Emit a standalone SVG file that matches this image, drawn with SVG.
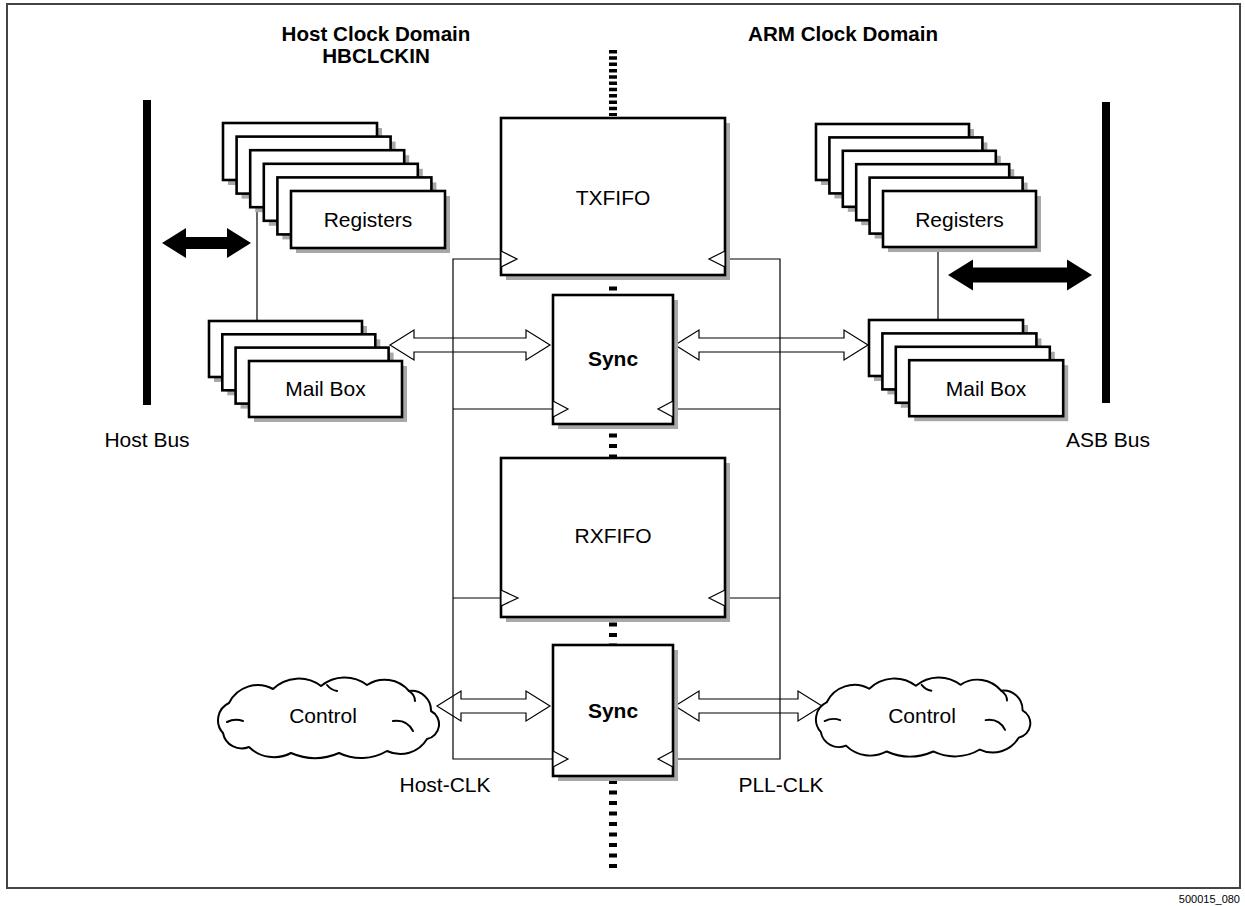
<svg xmlns="http://www.w3.org/2000/svg" xmlns:xlink="http://www.w3.org/1999/xlink" width="1245" height="906" viewBox="0 0 1245 906">
  <style>
    .frame { fill: none; stroke: #444; stroke-width: 2; }
    .sh { fill: #a8a8a8; }
    .bx { fill: #fff; stroke: #000; stroke-width: 2.6; }
    .clk { fill: #fff; stroke: #000; stroke-width: 1.2; }
    .wire { fill: none; stroke: #000; stroke-width: 1.2; }
    .hollow { fill: #fff; stroke: #000; stroke-width: 1.2; stroke-linejoin: miter; }
    .solid { fill: #000; stroke: none; }
    .bus { fill: #000; }
    .dom { fill: none; stroke: #000; stroke-width: 8; }
    .cloud { fill: #fff; stroke: #000; stroke-width: 2; stroke-linejoin: round; }
    .curl { fill: none; stroke: #000; stroke-width: 2; stroke-linecap: round; }
    text { font-family: "Liberation Sans", Arial, Helvetica, sans-serif; fill: #000; }
    .lbl { font-size: 21px; text-anchor: middle; }
    .b { font-weight: bold; }
    .hd { font-size: 20.6px; }
    .ref { font-size: 11px; text-anchor: end; }
  </style>
  <defs>
    <g id="cloud">
      <path class="cloud" d="M 8 56 A 19 19 0 0 1 14 26 A 32 32 0 0 1 58 12 A 37 37 0 0 1 106 9 A 37 37 0 0 1 152 8 A 32 32 0 0 1 194 14 A 19.5 19.5 0 0 1 216 34 A 15 15 0 0 1 212 62 A 31 31 0 0 1 172 74 A 51 51 0 0 1 124 76 A 60 60 0 0 1 76 76 A 36 36 0 0 1 34 70 A 19 19 0 0 1 8 56 Z"/>
      <path class="curl" d="M 12 45 Q 20 41 28 44"/>
      <path class="curl" d="M 178 44 Q 192 42 198 54"/>
      <path class="curl" d="M 112 8 Q 116 13 122 14"/>
      <path class="curl" d="M 194 14 Q 200 18 200 24"/>
    </g>
  </defs>

  <rect width="1245" height="906" fill="#fff"/>
  <rect class="frame" x="7" y="4" width="1233" height="884"/>
  <text class="ref" x="1240" y="903">500015_080</text>

  <!-- clock domain boundary -->
  <g id="domain-boundary">
    <line class="dom" x1="613" y1="50" x2="613" y2="116" stroke-dasharray="3.5 2.8"/>
    <line class="dom" x1="613" y1="276" x2="613" y2="870" stroke-dasharray="4 6.5"/>
  </g>

  <!-- domain headings -->
  <g id="headings">
    <text class="lbl b hd" x="376" y="41">Host Clock Domain</text>
    <text class="lbl b hd" x="376" y="63">HBCLCKIN</text>
    <text class="lbl b hd" x="843" y="41">ARM Clock Domain</text>
  </g>

  <!-- buses -->
  <g id="host-bus">
    <rect class="bus" x="143" y="100" width="8" height="305"/>
    <text class="lbl" x="147" y="447">Host Bus</text>
  </g>
  <g id="asb-bus">
    <rect class="bus" x="1102" y="102" width="8" height="301"/>
    <text class="lbl" x="1108" y="447">ASB Bus</text>
  </g>

  <!-- connectors -->
  <g id="connectors">
    <polygon class="solid" points="162,243 186,228 186,237 227,237 227,228 251,243 227,258 227,249 186,249 186,258"/>
    <polygon class="solid" points="948,275 973,259.5 973,267.5 1067,267.5 1067,259.5 1092,275 1067,290.5 1067,282.5 973,282.5 973,290.5"/>
    <polygon class="hollow" points="390,345 414,330 414,338 526,338 526,330 550,345 526,360 526,352 414,352 414,360"/>
    <polygon class="hollow" points="675,345 699,330 699,338 844,338 844,330 868,345 844,360 844,352 699,352 699,360"/>
    <polygon class="hollow" points="437,706 461,691 461,699 526,699 526,691 550,706 526,721 526,713 461,713 461,721"/>
    <polygon class="hollow" points="675,706 699,691 699,699 798,699 798,691 822,706 798,721 798,713 699,713 699,721"/>
    <line class="wire" x1="257" y1="207" x2="257" y2="321"/>
    <line class="wire" x1="938" y1="247" x2="938" y2="320"/>
    <!-- Host-CLK distribution -->
    <polyline class="wire" points="501,259 453,259 453,759 553,759"/>
    <line class="wire" x1="453" y1="409" x2="553" y2="409"/>
    <line class="wire" x1="453" y1="598" x2="501" y2="598"/>
    <!-- PLL-CLK distribution -->
    <polyline class="wire" points="725,259 780,259 780,759 673,759"/>
    <line class="wire" x1="673" y1="409" x2="780" y2="409"/>
    <line class="wire" x1="725" y1="598" x2="780" y2="598"/>
  </g>

  <!-- host-side register bank -->
  <g id="registers-host">
    <rect class="sh" x="228" y="128" width="154" height="57"/><rect class="bx" x="223" y="123" width="154" height="57"/>
    <rect class="sh" x="241.6" y="141.6" width="154" height="57"/><rect class="bx" x="236.6" y="136.6" width="154" height="57"/>
    <rect class="sh" x="255.2" y="155.2" width="154" height="57"/><rect class="bx" x="250.2" y="150.2" width="154" height="57"/>
    <rect class="sh" x="268.8" y="168.8" width="154" height="57"/><rect class="bx" x="263.8" y="163.8" width="154" height="57"/>
    <rect class="sh" x="282.4" y="182.4" width="154" height="57"/><rect class="bx" x="277.4" y="177.4" width="154" height="57"/>
    <rect class="sh" x="296" y="196" width="154" height="57"/><rect class="bx" x="291" y="191" width="154" height="57"/>
    <text class="lbl" x="368" y="227">Registers</text>
  </g>

  <!-- host-side mailboxes -->
  <g id="mailbox-host">
    <rect class="sh" x="214" y="326" width="153" height="56"/><rect class="bx" x="209" y="321" width="153" height="56"/>
    <rect class="sh" x="227.3" y="339.3" width="153" height="56"/><rect class="bx" x="222.3" y="334.3" width="153" height="56"/>
    <rect class="sh" x="240.6" y="352.6" width="153" height="56"/><rect class="bx" x="235.6" y="347.6" width="153" height="56"/>
    <rect class="sh" x="254" y="366" width="153" height="56"/><rect class="bx" x="249" y="361" width="153" height="56"/>
    <text class="lbl" x="325.5" y="396">Mail Box</text>
  </g>

  <!-- ARM-side register bank -->
  <g id="registers-arm">
    <rect class="sh" x="821" y="129" width="153" height="56"/><rect class="bx" x="816" y="124" width="153" height="56"/>
    <rect class="sh" x="834.4" y="142.4" width="153" height="56"/><rect class="bx" x="829.4" y="137.4" width="153" height="56"/>
    <rect class="sh" x="847.8" y="155.8" width="153" height="56"/><rect class="bx" x="842.8" y="150.8" width="153" height="56"/>
    <rect class="sh" x="861.2" y="169.2" width="153" height="56"/><rect class="bx" x="856.2" y="164.2" width="153" height="56"/>
    <rect class="sh" x="874.6" y="182.6" width="153" height="56"/><rect class="bx" x="869.6" y="177.6" width="153" height="56"/>
    <rect class="sh" x="888" y="196" width="153" height="56"/><rect class="bx" x="883" y="191" width="153" height="56"/>
    <text class="lbl" x="959.5" y="227">Registers</text>
  </g>

  <!-- ARM-side mailboxes -->
  <g id="mailbox-arm">
    <rect class="sh" x="874" y="325" width="154" height="56"/><rect class="bx" x="869" y="320" width="154" height="56"/>
    <rect class="sh" x="887.4" y="338.4" width="154" height="56"/><rect class="bx" x="882.4" y="333.4" width="154" height="56"/>
    <rect class="sh" x="900.8" y="351.8" width="154" height="56"/><rect class="bx" x="895.8" y="346.8" width="154" height="56"/>
    <rect class="sh" x="914.2" y="365.2" width="154" height="56"/><rect class="bx" x="909.2" y="360.2" width="154" height="56"/>
    <text class="lbl" x="986" y="396">Mail Box</text>
  </g>

  <!-- transmit FIFO -->
  <g id="txfifo">
    <rect class="sh" x="506" y="123" width="224" height="157"/>
    <rect class="bx" x="501" y="118" width="224" height="157"/>
    <polygon class="clk" points="501,251 517,259 501,267"/>
    <polygon class="clk" points="725,251 709,259 725,267"/>
    <text class="lbl" x="613" y="205">TXFIFO</text>
  </g>

  <!-- mailbox synchroniser -->
  <g id="sync-mailbox">
    <rect class="sh" x="558" y="300" width="120" height="129"/>
    <rect class="bx" x="553" y="295" width="120" height="129"/>
    <polygon class="clk" points="553,401 568,409 553,417"/>
    <polygon class="clk" points="673,401 658,409 673,417"/>
    <text class="lbl b" x="613" y="366">Sync</text>
  </g>

  <!-- receive FIFO -->
  <g id="rxfifo">
    <rect class="sh" x="506" y="463" width="224" height="159"/>
    <rect class="bx" x="501" y="458" width="224" height="159"/>
    <polygon class="clk" points="501,590 518,598 501,606"/>
    <polygon class="clk" points="725,590 709,598 725,606"/>
    <text class="lbl" x="613" y="543">RXFIFO</text>
  </g>

  <!-- control synchroniser -->
  <g id="sync-control">
    <rect class="sh" x="558" y="650" width="120" height="131"/>
    <rect class="bx" x="553" y="645" width="120" height="131"/>
    <polygon class="clk" points="553,751 568,759 553,767"/>
    <polygon class="clk" points="673,751 658,759 673,767"/>
    <text class="lbl b" x="613" y="718">Sync</text>
  </g>

  <!-- control logic clouds -->
  <g id="control-host">
    <use xlink:href="#cloud" transform="translate(215,677)"/>
    <text class="lbl" x="323" y="723">Control</text>
  </g>
  <g id="control-arm">
    <use xlink:href="#cloud" transform="translate(813,677) scale(0.97,0.98)"/>
    <text class="lbl" x="922" y="723">Control</text>
  </g>

  <!-- clock labels -->
  <g id="clock-labels">
    <text class="lbl" x="445" y="792">Host-CLK</text>
    <text class="lbl" x="781" y="792">PLL-CLK</text>
  </g>
</svg>
